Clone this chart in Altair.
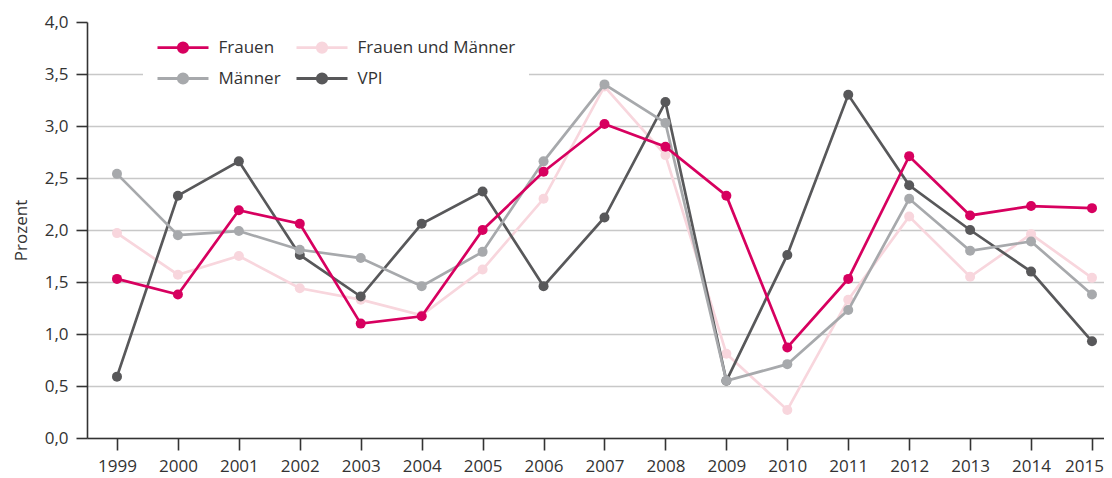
import altair as alt
import pandas as pd

years = list(range(1999, 2016))
frauen = [1.53, 1.38, 2.19, 2.06, 1.10, 1.17, 2.00, 2.56, 3.02, 2.80, 2.33, 0.87, 1.53, 2.71, 2.14, 2.23, 2.21]
maenner = [2.54, 1.95, 1.99, 1.81, 1.73, 1.46, 1.79, 2.66, 3.40, 3.03, 0.55, 0.71, 1.23, 2.30, 1.80, 1.89, 1.38]
frauen_und_maenner = [1.97, 1.57, 1.75, 1.44, 1.33, 1.18, 1.62, 2.30, 3.38, 2.72, 0.81, 0.27, 1.33, 2.13, 1.55, 1.96, 1.54]
vpi = [0.59, 2.33, 2.66, 1.76, 1.36, 2.06, 2.37, 1.46, 2.12, 3.23, 0.55, 1.76, 3.30, 2.43, 2.00, 1.60, 0.93]

# legend order (column-major: Frauen / Männer in column 1, Frauen und Männer / VPI in column 2)
series_names = ["Frauen", "Männer", "Frauen und Männer", "VPI"]
series_values = [frauen, maenner, frauen_und_maenner, vpi]
colors = ["#d7005f", "#a7a9ac", "#f8d6dd", "#58585a"]
y_ticks = [0, 0.5, 1, 1.5, 2, 2.5, 3, 3.5, 4]

rows = []
for name, vals in zip(series_names, series_values):
    for yr, v in zip(years, vals):
        rows.append({"Jahr": yr, "Wert": v, "Serie": name})
df = pd.DataFrame(rows)

FONT = "Open Sans"
TXT = "#333333"

color = alt.Color(
    "Serie:N",
    scale=alt.Scale(domain=series_names, range=colors),
    legend=alt.Legend(
        title=None,
        orient="none",
        legendX=56,
        legendY=1,
        columns=2,
        columnPadding=9,
        rowPadding=9,
        padding=13,
        fillColor="white",
        symbolType="M-2.55,0L2.55,0M0.47,0A0.47,0.47,0,1,1,-0.47,0A0.47,0.47,0,1,1,0.47,0Z",
        symbolSize=400,
        symbolOffset=15.5,
        symbolStrokeWidth=2.8,
        symbolOpacity=1,
        labelOffset=24,
        labelFont=FONT,
        labelFontSize=17,
        labelColor=TXT,
    ),
)

x = alt.X(
    "Jahr:Q",
    scale=alt.Scale(domain=[1998.508, 2015.197], nice=False, zero=False),
    axis=alt.Axis(values=years, format="d", grid=False, title=None, tickSize=12,
                  labelPadding=8, labelFlush=False,
                  labelOffset={"condition": {"test": "datum.value >= 2015", "value": -8}, "value": 0}),
)
y = alt.Y(
    "Wert:Q",
    scale=alt.Scale(domain=[0, 4], nice=False),
    axis=alt.Axis(values=y_ticks, labelExpr="replace(format(datum.value, '.1f'), '.', ',')",
                  title="Prozent", tickSize=11, labelPadding=8, titlePadding=14,
                  gridOpacity={"condition": {"test": "datum.value >= 4", "value": 0}, "value": 1}),
)

draw_order = ["Frauen und Männer", "VPI", "Männer", "Frauen"]
layers = []
for name in draw_order:
    base = alt.Chart(df).transform_filter(alt.datum.Serie == name)
    layers.append(base.mark_line(strokeWidth=2.7).encode(x=x, y=y, color=color))
    layers.append(base.mark_point(filled=True, size=100, opacity=1).encode(x=x, y=y, color=color))

chart = alt.layer(*layers).properties(
    width=1017,
    height=416,
    autosize=alt.AutoSizeParams(type="none"),
    padding={"left": 79, "top": 14, "right": 0, "bottom": 40},
).configure_view(stroke=None).configure_axis(
    labelFont=FONT,
    labelFontSize=17,
    labelColor=TXT,
    titleFont=FONT,
    titleFontSize=17,
    titleFontWeight="normal",
    titleColor=TXT,
    domainColor=TXT,
    domainWidth=1.6,
    tickColor=TXT,
    tickWidth=1.6,
    gridColor="#c8c8c8",
    gridWidth=1.6,
)

chart.save("out.html", embed_options={"renderer": "svg", "actions": False})
